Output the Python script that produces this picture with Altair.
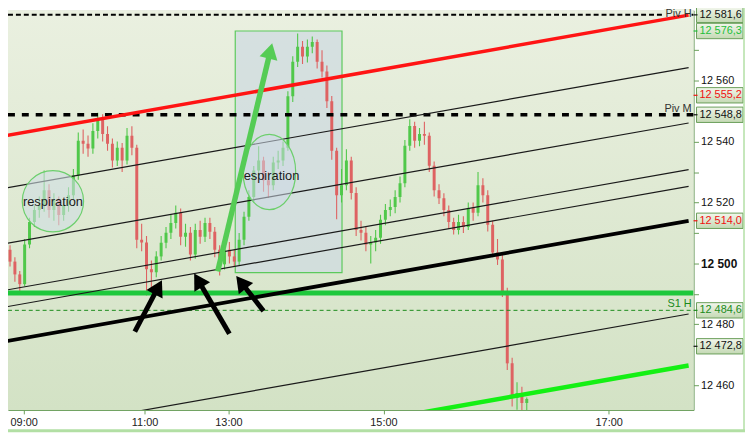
import altair as alt
import pandas as pd

# ---- price bars: one slot per bar, open = previous close ----
first_open = 12507.0
closes = [
    12504.5, 12500.6, 12496.4, 12493.2, 12506.2, 12513.6, 12517.5, 12519.2, 12524.0, 12517.5,
    12520.8, 12515.9, 12519.2, 12522.4, 12528.9, 12540.3, 12539.3, 12537.7, 12543.5, 12547.4,
    12542.5, 12539.3, 12533.8, 12538.0, 12533.8, 12541.9, 12538.0, 12507.8, 12506.9, 12498.1,
    12497.1, 12502.3, 12506.8, 12510.1, 12513.3, 12516.6, 12508.8, 12510.1, 12502.9, 12511.0,
    12508.8, 12513.3, 12510.4, 12504.5, 12499.7, 12504.5, 12502.3, 12500.6, 12507.8, 12515.3,
    12521.8, 12530.5, 12533.8, 12527.3, 12525.7, 12533.1, 12533.8, 12538.0, 12554.9, 12566.2,
    12571.1, 12567.9, 12571.1, 12572.7, 12566.2, 12563.0, 12553.2, 12537.0, 12522.4, 12525.7,
    12533.8, 12523.1, 12511.0, 12510.1, 12506.2, 12506.9, 12508.4, 12514.3, 12517.5, 12518.5,
    12521.8, 12526.3, 12538.6, 12545.1, 12540.3, 12542.5, 12541.9, 12532.1, 12524.0, 12521.4,
    12517.5, 12513.6, 12511.0, 12513.6, 12512.0, 12518.2, 12516.6, 12525.7, 12522.4, 12512.7,
    12503.6, 12501.3, 12490.6, 12467.2, 12455.8, 12457.5, 12454.2, 12455.5,
]
highs = [
    12509, 12506, 12502, 12497.5, 12508, 12515, 12519, 12522, 12530.5, 12526,
    12523, 12522, 12521, 12525, 12531, 12543, 12544, 12542, 12546, 12549.5,
    12549, 12545, 12541, 12540, 12539.5, 12544.5, 12545, 12539, 12513, 12509,
    12501, 12504, 12509, 12512, 12516, 12519, 12518, 12513, 12512, 12513,
    12514, 12515, 12515, 12512, 12506, 12506.5, 12507, 12504.5, 12510, 12517,
    12524, 12532, 12538.5, 12535, 12530, 12535, 12537, 12540, 12556.5, 12568,
    12575.5, 12573, 12573.5, 12574.5, 12573.5, 12570, 12565, 12555, 12538, 12531,
    12537.5, 12535, 12525, 12514, 12512, 12509, 12511, 12516, 12519.5, 12521,
    12524, 12528.5, 12540.5, 12547.3, 12546.5, 12544.5, 12546.5, 12543, 12533.5, 12526,
    12523, 12519, 12515, 12516, 12515.5, 12520, 12520, 12530, 12528, 12524,
    12514, 12508, 12503, 12492, 12469, 12461, 12459.5, 12456,
]
lows = [
    12502, 12499, 12494, 12490.5, 12492.5, 12505, 12512, 12515, 12517, 12515,
    12514, 12512.5, 12514, 12517, 12521, 12527.5, 12536, 12535, 12536, 12541,
    12540, 12537, 12531.5, 12532, 12530, 12532.5, 12535.5, 12505, 12504, 12489.5,
    12492, 12495.5, 12501, 12505, 12508, 12511.5, 12506, 12505.5, 12501, 12501.5,
    12506.5, 12507, 12508, 12502, 12496, 12498, 12500, 12499, 12499.5, 12506,
    12514, 12520, 12528, 12523.5, 12521.5, 12524, 12531, 12532, 12537, 12553,
    12564.5, 12565.5, 12566, 12569, 12564, 12561, 12551, 12534, 12514.5, 12520,
    12524, 12521, 12509, 12507.5, 12504, 12500, 12504, 12506.5, 12512.5, 12515.5,
    12516.5, 12520, 12525, 12537, 12538, 12538.5, 12539, 12530, 12522, 12519.5,
    12515.5, 12511.5, 12509.5, 12509.5, 12510, 12511, 12514, 12515.5, 12520, 12510.5,
    12502, 12499.5, 12489, 12465, 12453, 12452, 12451, 12451,
]

# ---- time axis: slot positions of the hour labels ----
time_ticks = [3.8, 28.6, 45.8, 77.6, 123.8]
time_labels = ["09:00", "11:00", "13:00", "15:00", "17:00"]
slot_first, slot_last = 0.0, 140.2
view_slots = [1.6, 140.2]
view_prices = [12451.9, 12583.1]

# ---- sloped channel lines: price at first and last slot ----
chan_ids = ["red", "t1", "t2", "t3", "t4", "thick", "t5", "lime"]
chan_start = [12541.9, 12524.7, 12506.5, 12491.2, 12485.7, 12474.4, 12443.8, 12426.9]
chan_end = [12581.5, 12564.3, 12546.1, 12530.8, 12525.3, 12514.0, 12483.4, 12466.5]
chan_colors = ["#ff1414", "#1a1a1a", "#1a1a1a", "#1a1a1a", "#1a1a1a", "#000000", "#1a1a1a", "#14f014"]
chan_widths = [3.5, 1.2, 1.2, 1.2, 1.2, 3.8, 1.2, 4.5]

# ---- horizontal levels ----
level_names = ["Piv H", "Piv M", "S1 H", "support"]
level_prices = [12581.6, 12548.8, 12484.6, 12490.3]
level_label_colors = ["#333333", "#333333", "#1a8a1a", "#1ec83c"]

# ---- price tags on the right scale ----
tag_prices = [12581.6, 12576.3, 12555.2, 12548.8, 12514.0, 12484.6, 12472.8]
tag_texts = ["12 581,6", "12 576,3", "12 555,2", "12 548,8", "12 514,0", "12 484,6", "12 472,8"]
tag_colors = ["#111111", "#1fbf3a", "#f01010", "#111111", "#f01010", "#1a8a1a", "#111111"]
axis_values = [12460, 12480, 12490, 12500, 12510, 12520, 12530, 12540, 12560, 12570]

# ---- annotations ----
zone_slots = [47.2, 69.1]
zone_prices = [12497.0, 12576.3]
note_slots = [9.8, 54.2]
note_prices = [12520.4, 12530.0]
note_text_prices = [12520.1, 12528.6]
arrow_ids = ["up", "a1", "a2", "a3"]
arrow_from_slot = [43.6, 26.6, 46.0, 53.0]
arrow_from_price = [12497.4, 12477.6, 12476.9, 12484.4]
arrow_to_slot = [54.4, 31.4, 39.6, 48.4]
arrow_to_price = [12569.8, 12492.2, 12494.5, 12493.8]
arrow_angles = [13.6, 28, 329.4, 322]
arrow_colors = ["#55cc55", "#000000", "#000000", "#000000"]
arrow_widths = [5.5, 5, 5, 5]

GREEN_AXIS = "#6a9f5a"
UP, DOWN = "#50c84a", "#de6262"
W, H = 693, 404

# ---------------- frames ----------------
opens = [first_open] + closes[:-1]
bars = pd.DataFrame({
    "slot": list(range(len(closes))),
    "open": opens, "close": closes, "high": highs, "low": lows,
})
bars["color"] = [UP if c >= o else DOWN for o, c in zip(opens, closes)]

chan = pd.DataFrame({
    "id": chan_ids * 2,
    "slot": [slot_first] * len(chan_ids) + [slot_last] * len(chan_ids),
    "price": chan_start + chan_end,
    "color": chan_colors * 2,
    "width": chan_widths * 2,
})
levels = pd.DataFrame({"name": level_names, "price": level_prices, "color": level_label_colors})
tags = pd.DataFrame({"price": tag_prices, "text": tag_texts, "color": tag_colors})
zone = pd.DataFrame({"slot": [zone_slots[0]], "slot2": [zone_slots[1]],
                     "price": [zone_prices[0]], "price2": [zone_prices[1]]})
notes = pd.DataFrame({"slot": note_slots, "price": note_prices,
                      "tprice": note_text_prices, "text": ["respiration", "respiration"]})
shafts = pd.DataFrame({
    "id": arrow_ids * 2,
    "slot": arrow_from_slot + arrow_to_slot,
    "price": arrow_from_price + arrow_to_price,
    "color": arrow_colors * 2,
    "width": arrow_widths * 2,
})
heads = pd.DataFrame({"id": arrow_ids, "slot": arrow_to_slot, "price": arrow_to_price,
                      "angle": arrow_angles, "color": arrow_colors})

# ---------------- shared encodings ----------------
label_map = " : ".join(f"datum.value == {v} ? '{t}'" for v, t in zip(time_ticks, time_labels)) + " : ''"
x_axis = alt.Axis(values=time_ticks, labelExpr=label_map, grid=False, title=None,
                  domainColor=GREEN_AXIS, tickColor=GREEN_AXIS, tickSize=4,
                  labelFontSize=11, labelColor="#222222", labelPadding=3)
y_axis = alt.Axis(orient="right", values=axis_values, grid=False, title=None,
                  labelExpr="datum.value % 20 == 0 ? replace(format(datum.value, ','), ',', ' ') : ''",
                  labelFontWeight={"condition": {"test": "datum.value == 12500", "value": "bold"},
                                   "value": "normal"},
                  labelFontSize={"condition": {"test": "datum.value == 12500", "value": 12},
                                 "value": 11},
                  domainColor=GREEN_AXIS, tickColor=GREEN_AXIS, tickSize=5,
                  labelColor="#111111", labelPadding=2)
X_SCALE = alt.Scale(domain=view_slots, nice=False, zero=False)
Y_SCALE = alt.Scale(domain=view_prices, nice=False, zero=False)
IDENT = alt.Color("color:N", scale=None)


def xs(field="slot"):
    return alt.X(f"{field}:Q", scale=X_SCALE, axis=x_axis, title=None)


def ys(field="price"):
    return alt.Y(f"{field}:Q", scale=Y_SCALE, axis=y_axis, title=None)


one = pd.DataFrame({"k": [0]})

bg = alt.Chart(one).mark_rect(color={
    "gradient": "linear", "x1": 0, "x2": 0, "y1": 0, "y2": 1,
    "stops": [{"offset": 0, "color": "#eaf0e0"}, {"offset": 1, "color": "#d3e2c5"}],
}).encode(x=alt.value(0), x2=alt.value(W), y=alt.value(0), y2=alt.value(H))

zone_rect = alt.Chart(zone).mark_rect(
    fill="#cfdbe0", fillOpacity=0.75, stroke="#5cc95c", strokeWidth=1.2, clip=True
).encode(x=xs(), x2="slot2:Q", y=ys(), y2="price2:Q")

wicks = alt.Chart(bars).mark_rule(strokeWidth=1.1, clip=True).encode(
    x=xs(), y=ys("low"), y2="high:Q", color=IDENT)
bodies = alt.Chart(bars).mark_bar(size=3, clip=True).encode(
    x=xs(), y=ys("open"), y2="close:Q", color=IDENT)

circle1 = alt.Chart(notes.iloc[[0]]).mark_point(
    shape="circle", size=3844, filled=True, fill="#cfdde2", fillOpacity=0.6,
    stroke="#6ccf6c", strokeWidth=1.2, strokeOpacity=1
).encode(x=xs(), y=ys())
ellipse_path = ("M0,-1 C0.3866,-1 0.7,-0.5523 0.7,0 C0.7,0.5523 0.3866,1 0,1 "
                "C-0.3866,1 -0.7,0.5523 -0.7,0 C-0.7,-0.5523 -0.3866,-1 0,-1 Z")
ellipse2 = alt.Chart(notes.iloc[[1]]).mark_point(
    shape=ellipse_path, size=5776, filled=True, fill="#cdd9e6", fillOpacity=0.55,
    stroke="#6ccf6c", strokeWidth=1.2, strokeOpacity=1
).encode(x=xs(), y=ys())
note_text = alt.Chart(notes).mark_text(fontSize=13, color="#1a1a1a").encode(
    x=xs(), y=ys("tprice"), text="text:N")


def level(name, **kw):
    return alt.Chart(levels[levels["name"] == name]).mark_rule(clip=True, **kw).encode(
        x=alt.value(0), x2=alt.value(W), y=ys())


lv_support = level("support", color="#1ec83c", strokeWidth=5)
lv_s1 = level("S1 H", color="#1a8a1a", strokeWidth=1, strokeDash=[4, 3])
lv_pivm = level("Piv M", color="#000000", strokeWidth=3.5, strokeDash=[7, 7])
lv_pivh = level("Piv H", color="#000000", strokeWidth=2, strokeDash=[5, 3])

channels = alt.Chart(chan).mark_line(clip=True).encode(
    x=xs(), y=ys(), detail="id:N", color=IDENT,
    strokeWidth=alt.StrokeWidth("width:Q", scale=None),
)

arrow_shafts = alt.Chart(shafts).mark_line().encode(
    x=xs(), y=ys(), detail="id:N", color=IDENT,
    strokeWidth=alt.StrokeWidth("width:Q", scale=None),
)
arrow_heads = alt.Chart(heads).mark_point(shape="triangle-up", filled=True, size=340, opacity=1).encode(
    x=xs(), y=ys(), angle=alt.Angle("angle:Q", scale=None), color=IDENT,
)

label_rows = levels[levels["name"] != "support"]
level_labels = alt.Chart(label_rows[label_rows["name"] != "Piv H"]).mark_text(
    align="right", baseline="bottom", dy=-1, fontSize=11
).encode(x=alt.value(691), y=ys(), text="name:N", color=IDENT)
# the top label sits at the very edge: give it a small plate on the dashed line
pivh_rows = label_rows[label_rows["name"] == "Piv H"]
pivh_plate = alt.Chart(pivh_rows).mark_point(
    shape="M-1,-0.42 L1,-0.42 L1,0.42 L-1,0.42 Z", size=784, filled=True, opacity=1,
    fill="#eaf0e0", strokeWidth=0,
).encode(x=alt.value(677), y=ys())
pivh_label = alt.Chart(pivh_rows).mark_text(
    align="right", baseline="middle", dy=-1, fontSize=11
).encode(x=alt.value(691), y=ys(), text="name:N", color=IDENT)

tag_box = alt.Chart(tags).mark_point(
    shape="M-1,-0.33 L1,-0.33 L1,0.33 L-1,0.33 Z", size=2209, filled=True, opacity=1,
    fill={"gradient": "linear", "x1": 0, "x2": 0, "y1": 0, "y2": 1,
          "stops": [{"offset": 0, "color": "#f2f6ec"}, {"offset": 1, "color": "#c4d9b4"}]},
    stroke="#6a9f5a", strokeWidth=1,
).encode(x=alt.value(719.5), y=ys())
tag_tick = alt.Chart(tags).mark_rule(strokeWidth=1.2).encode(
    x=alt.value(W), x2=alt.value(W + 4), y=ys(), color=IDENT)
tag_text = alt.Chart(tags).mark_text(align="left", fontSize=11).encode(
    x=alt.value(699), y=ys(), text="text:N", color=IDENT)

frame_bottom = alt.Chart(one).mark_rule(color="#b2dfa4", strokeWidth=3).encode(
    x=alt.value(-10), x2=alt.value(760), y=alt.value(425))
frame_right = alt.Chart(one).mark_rule(color="#b2dfa4", strokeWidth=1.5).encode(
    x=alt.value(744), y=alt.value(-10), y2=alt.value(425))

chart = alt.layer(
    bg, zone_rect, wicks, bodies, lv_support, lv_s1, lv_pivm, lv_pivh, pivh_plate, channels,
    circle1, ellipse2, note_text, arrow_shafts, arrow_heads, level_labels,
    pivh_label, tag_box, tag_tick, tag_text, frame_bottom, frame_right,
).properties(
    width=W, height=H,
    padding={"left": 0, "top": 0, "right": 52, "bottom": 23},
    autosize=alt.AutoSizeParams(type="none"),
).configure_view(strokeWidth=0).configure(font="Liberation Sans")

chart.save("out.html", embed_options={"renderer": "svg", "actions": False})
